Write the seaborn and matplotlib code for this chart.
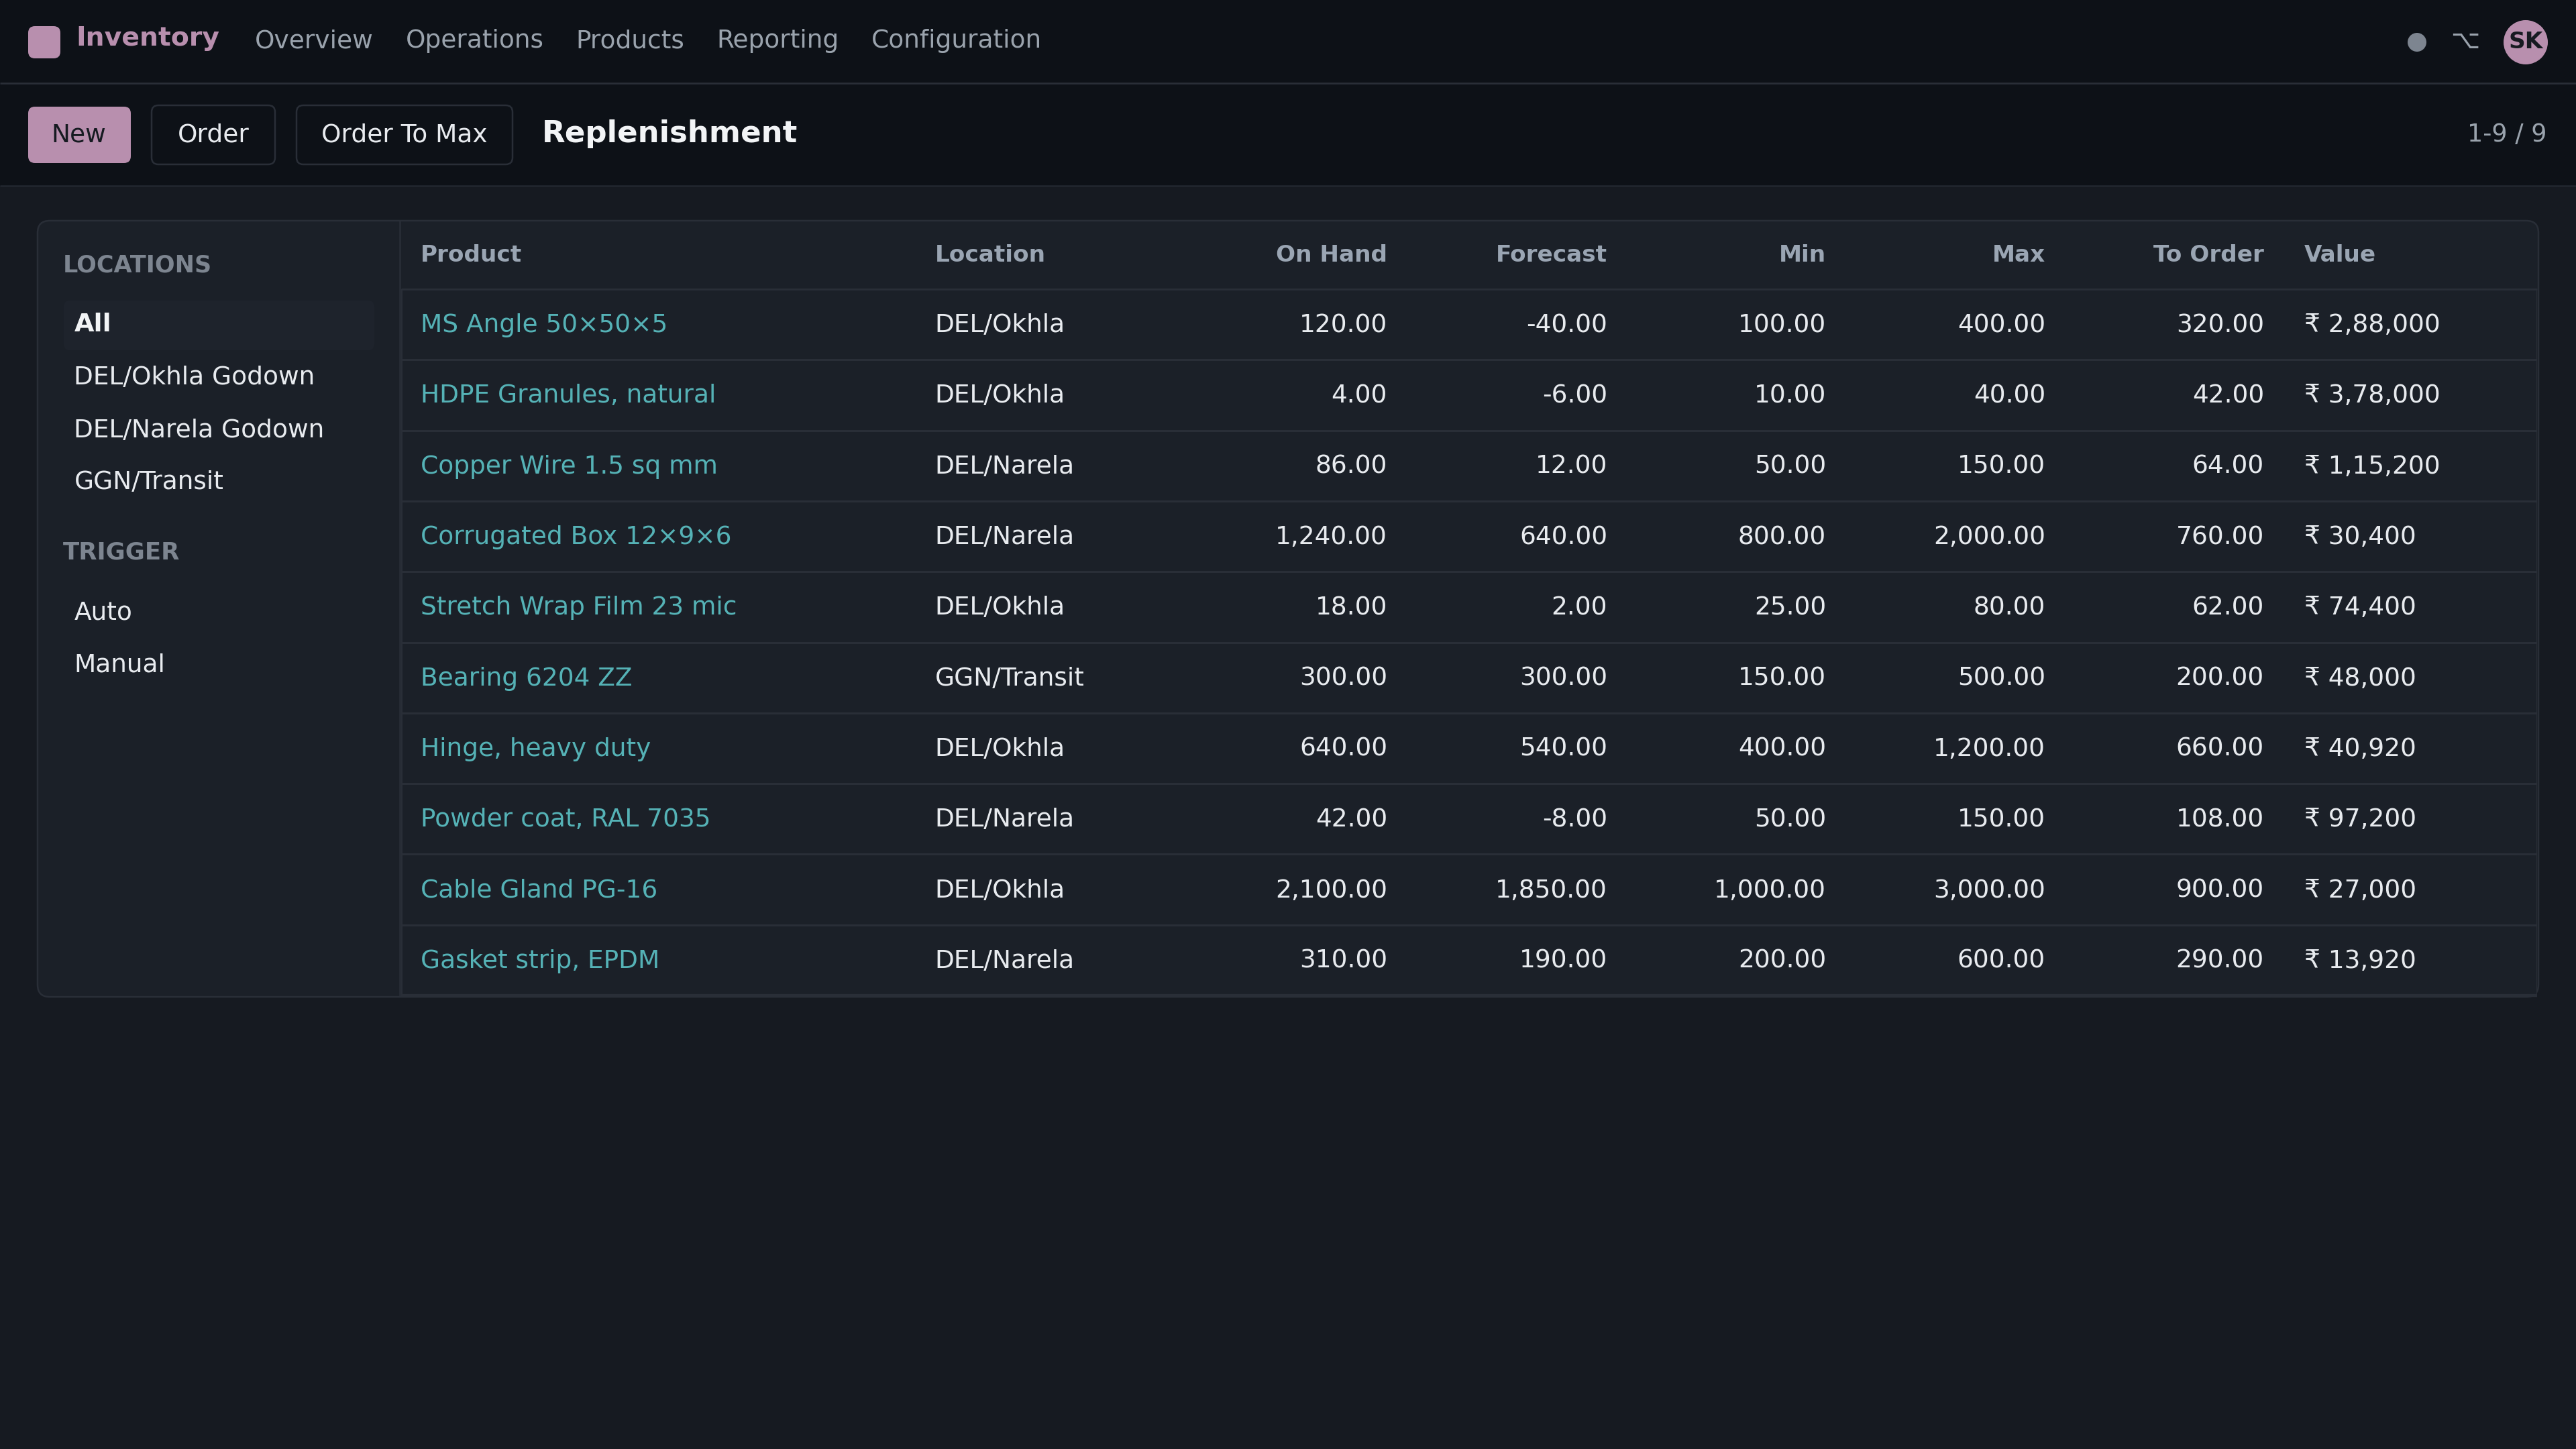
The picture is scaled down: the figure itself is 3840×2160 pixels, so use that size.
import numpy as np
import seaborn as sns
import matplotlib
matplotlib.use("Agg")
import matplotlib.pyplot as plt
from matplotlib.colors import ListedColormap
from matplotlib.patches import Circle, FancyBboxPatch, Rectangle
from matplotlib.transforms import blended_transform_factory

# table data
products = ["MS Angle 50×50×5", "HDPE Granules, natural", "Copper Wire 1.5 sq mm",
            "Corrugated Box 12×9×6", "Stretch Wrap Film 23 mic", "Bearing 6204 ZZ",
            "Hinge, heavy duty", "Powder coat, RAL 7035", "Cable Gland PG-16",
            "Gasket strip, EPDM"]
locations = ["DEL/Okhla", "DEL/Okhla", "DEL/Narela", "DEL/Narela", "DEL/Okhla",
             "GGN/Transit", "DEL/Okhla", "DEL/Narela", "DEL/Okhla", "DEL/Narela"]
on_hand = [120, 4, 86, 1240, 18, 300, 640, 42, 2100, 310]
forecast = [-40, -6, 12, 640, 2, 300, 540, -8, 1850, 190]
min_qty = [100, 10, 50, 800, 25, 150, 400, 50, 1000, 200]
max_qty = [400, 40, 150, 2000, 80, 500, 1200, 150, 3000, 600]
to_order = [320, 42, 64, 760, 62, 200, 660, 108, 900, 290]
values = ["₹ 2,88,000", "₹ 3,78,000", "₹ 1,15,200", "₹ 30,400", "₹ 74,400",
          "₹ 48,000", "₹ 40,920", "₹ 97,200", "₹ 27,000", "₹ 13,920"]

nav_items = ["Overview", "Operations", "Products", "Reporting", "Configuration"]
buttons = ["New", "Order", "Order To Max"]
location_filters = ["All", "DEL/Okhla Godown", "DEL/Narela Godown", "GGN/Transit"]
trigger_filters = ["Auto", "Manual"]
headers = ["Product", "Location", "On Hand", "Forecast", "Min", "Max", "To Order", "Value"]

# colours
PAGE = "#161a21"
BAR = "#0d1117"
CARD = "#1b2028"
LINE = "#292e37"
PINK = "#b88fae"
TEAL = "#55b2b6"
WHITE = "#e8ebef"
MUTED = "#9aa3ad"
HEAD = "#9aa5b3"
SIDE = "#7d8590"

W, H = 3840, 2160
BODY = 37.5  # body text size in image pixels
sns.set_theme(style="dark", rc={"figure.facecolor": PAGE, "axes.facecolor": PAGE, "text.color": WHITE})
plt.rcParams["font.family"] = ["DejaVu Sans"]


def fs(px):
    # pixel height to points at dpi 200
    return px * 72 / 200


fig = plt.figure(figsize=(19.2, 10.8), dpi=200)
ax = fig.add_axes([0, 0, 1, 1])
ax.set_xlim(0, W)
ax.set_ylim(H, 0)
ax.axis("off")


def box(x0, y0, x1, y1, r, fc, ec="none", lw=0, z=1):
    p = FancyBboxPatch((x0, y0), x1 - x0, y1 - y0, boxstyle=f"round,pad=0,rounding_size={r}",
                       fc=fc, ec=ec, lw=lw, zorder=z)
    ax.add_patch(p)


def label(x, y, s, size=BODY, color=WHITE, weight="normal", ha="left"):
    ax.text(x, y, s, fontsize=fs(size), color=color, fontweight=weight, ha=ha, va="baseline", zorder=5)


# top bars
ax.add_patch(Rectangle((0, 0), W, 277, fc=BAR, ec="none", zorder=1))
ax.hlines(124, 0, W, color=LINE, lw=1.0, zorder=2)
ax.hlines(277, 0, W, color="#22272f", lw=0.9, zorder=2)

box(42, 39, 90, 87, 10, PINK, z=3)
label(113.5, 68.5, "Inventory", 39.4, PINK, "bold")
for x, s in zip([380, 604.5, 858.5, 1068.5, 1298.5], nav_items):
    label(x, 71, s, BODY, MUTED)

ax.add_patch(Circle((3603, 63), 14, fc="#7d8590", ec="none", zorder=3))
label(3675, 72, "⌥", BODY, MUTED, ha="center")
ax.add_patch(Circle((3765, 63), 33, fc=PINK, ec="none", zorder=3))
label(3765, 71.5, "SK", 34.3, "#161a21", "bold", ha="center")

# buttons
box(42, 159, 195, 243, 10, PINK, z=3)
box(226, 157, 410, 245, 10, BAR, LINE, 0.9, z=3)
box(442, 157, 764, 245, 10, BAR, LINE, 0.9, z=3)
for x, s, c in zip([117.5, 318, 603], buttons, ["#161a21", WHITE, WHITE]):
    label(x, 212, s, BODY, c, ha="center")
label(808, 212, "Replenishment", 45.1, "#f2f4f6", "bold")
label(3797, 211, "1-9 / 9", 36.7, MUTED, ha="right")

# card and sidebar
box(56, 329, 3784, 1486, 18, CARD, LINE, 0.9, z=1)
ax.vlines(596, 329, 1486, color=LINE, lw=0.9, zorder=2)

label(94, 405, "LOCATIONS", 35, SIDE, "bold")
box(95, 448, 558, 522, 9, "#1e232c", z=2)
for y, s in zip([494.5, 573, 652, 729], location_filters):
    bold = s == "All"
    label(110.5, y, s, BODY + 0.6 if bold else BODY, "#f2f4f6" if bold else WHITE, "bold" if bold else "normal")
label(94, 834, "TRIGGER", 35.5, SIDE, "bold")
for y, s in zip([923, 1001], trigger_filters):
    label(110.5, y, s, BODY)

# table rows, one heatmap cell per row, the separators are the cell edges
tab = fig.add_axes([598 / W, 1 - 1484 / H, (3782 - 598) / W, (1484 - 431) / H], zorder=3)
sns.heatmap(np.zeros((len(products), 1)), ax=tab, cmap=ListedColormap([CARD]), cbar=False,
            linewidths=1.0, linecolor=LINE, xticklabels=False, yticklabels=False)
tab.hlines(0, 0, 1, color=LINE, lw=1.0, clip_on=False)
tab.hlines(len(products), 0, 1, color=LINE, lw=1.6, clip_on=False)

# column x positions in page pixels, numbers right aligned
col_left = {"Product": 627, "Location": 1393.5, "Value": 3435}
col_right = {"On Hand": 2068, "Forecast": 2396, "Min": 2722, "Max": 3049, "To Order": 3375}

for h in headers:
    if h in col_left:
        label(col_left[h], 390, h, 34.3, HEAD, "bold")
    else:
        label(col_right[h], 390, h, 34.3, HEAD, "bold", ha="right")

tr = blended_transform_factory(ax.transData, tab.transData)
numbers = {"On Hand": on_hand, "Forecast": forecast, "Min": min_qty, "Max": max_qty, "To Order": to_order}
base = 0.5 + 11.5 / 105.3  # text baseline inside a row


def cell(x, i, s, color=WHITE, ha="left"):
    tab.text(x, i + base, s, transform=tr, fontsize=fs(BODY), color=color, ha=ha, va="baseline", zorder=5)


for i in range(len(products)):
    cell(col_left["Product"], i, products[i], TEAL)
    cell(col_left["Location"], i, locations[i])
    for name, vals in numbers.items():
        cell(col_right[name], i, f"{vals[i]:,.2f}", ha="right")
    cell(col_left["Value"], i, values[i])

fig.savefig("out.png", dpi=200, facecolor=PAGE)
